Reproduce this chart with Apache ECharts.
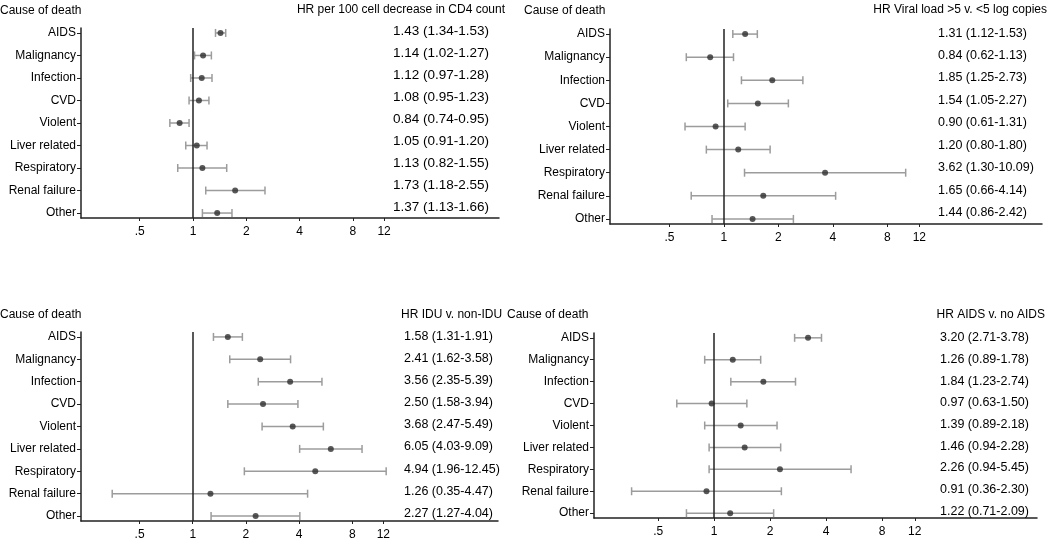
<!DOCTYPE html>
<html>
<head>
<meta charset="utf-8">
<script src="https://cdn.jsdelivr.net/npm/echarts@6/dist/echarts.min.js"></script>
<style>html,body{margin:0;padding:0;background:#fff}#c{width:1050px;height:542px}</style>
</head>
<body>
<div id="c"></div>
<script>
const categories = ['AIDS','Malignancy','Infection','CVD','Violent','Liver related','Respiratory','Renal failure','Other'];
const xTickValues = [0.5, 1, 2, 4, 8, 12];
const xTickLabels = ['.5', '1', '2', '4', '8', '12'];

const panelTitles = ['HR per 100 cell decrease in CD4 count','HR Viral load >5 v. <5 log copies','HR IDU v. non-IDU','HR AIDS v. no AIDS'];
const yHeader = 'Cause of death';

// CD4 count
const hrCD4 = [1.43, 1.14, 1.12, 1.08, 0.84, 1.05, 1.13, 1.73, 1.37];
const loCD4 = [1.34, 1.02, 0.97, 0.95, 0.74, 0.91, 0.82, 1.18, 1.13];
const hiCD4 = [1.53, 1.27, 1.28, 1.23, 0.95, 1.20, 1.55, 2.55, 1.66];
// Viral load
const hrVL = [1.31, 0.84, 1.85, 1.54, 0.90, 1.20, 3.62, 1.65, 1.44];
const loVL = [1.12, 0.62, 1.25, 1.05, 0.61, 0.80, 1.30, 0.66, 0.86];
const hiVL = [1.53, 1.13, 2.73, 2.27, 1.31, 1.80, 10.09, 4.14, 2.42];
// IDU
const hrIDU = [1.58, 2.41, 3.56, 2.50, 3.68, 6.05, 4.94, 1.26, 2.27];
const loIDU = [1.31, 1.62, 2.35, 1.58, 2.47, 4.03, 1.96, 0.35, 1.27];
const hiIDU = [1.91, 3.58, 5.39, 3.94, 5.49, 9.09, 12.45, 4.47, 4.04];
// AIDS
const hrAIDS = [3.20, 1.26, 1.84, 0.97, 1.39, 1.46, 2.26, 0.91, 1.22];
const loAIDS = [2.71, 0.89, 1.23, 0.63, 0.89, 0.94, 0.94, 0.36, 0.71];
const hiAIDS = [3.78, 1.78, 2.74, 1.50, 2.18, 2.28, 5.45, 2.30, 2.09];

const panels = [
  {hr: hrCD4, lo: loCD4, hi: hiCD4, grid: {left: 81, top: 28, width: 418, height: 190}, xmin: 0.233, xmax: 53.5,
   valOffset: -106, valFont: 13.5, vmin: -0.136, vmax: 8.5,
   head: {left: 0, top: 5}, title: {right: 545, top: 4}},
  {hr: hrVL, lo: loVL, hi: hiVL, grid: {left: 610, top: 29, width: 432, height: 195}, xmin: 0.235, xmax: 57.1,
   valOffset: -104, valFont: 12.5, vmin: -0.18, vmax: 8.49,
   head: {left: 524, top: 5}, title: {right: 3, top: 4}},
  {hr: hrIDU, lo: loIDU, hi: hiIDU, grid: {left: 81, top: 332, width: 417, height: 189}, xmin: 0.233, xmax: 53.5,
   valOffset: -94, valFont: 12.5, vmin: -0.227, vmax: 8.36,
   head: {left: 0, top: 309}, title: {left: 401, top: 309}},
  {hr: hrAIDS, lo: loAIDS, hi: hiAIDS, grid: {left: 594, top: 333, width: 443, height: 185}, xmin: 0.226, xmax: 54.5,
   valOffset: -97, valFont: 12.5, vmin: -0.23, vmax: 8.32,
   head: {left: 507, top: 309}, title: {right: 5, top: 309}}
];

const FONT = 'Liberation Sans, Arial, sans-serif';
const TXT = '#000';
const AX = '#222';
const idx = categories.map((c, i) => i);
const fmt = v => v.toFixed(2);

const option = {
  backgroundColor: '#fff',
  animation: false,
  title: [],
  grid: [],
  xAxis: [],
  yAxis: [],
  series: []
};

panels.forEach((p, k) => {
  option.title.push(Object.assign({text: yHeader, padding: 0, textStyle: {fontFamily: FONT, fontSize: 12, fontWeight: 'normal', color: TXT}}, p.head));
  option.title.push(Object.assign({text: panelTitles[k], padding: 0, textStyle: {fontFamily: FONT, fontSize: 12, fontWeight: 'normal', color: TXT}}, p.title));
  option.grid.push(Object.assign({containLabel: false}, p.grid));
  option.xAxis.push({
    type: 'log', logBase: 2, gridIndex: k, min: p.xmin, max: p.xmax, position: 'bottom',
    axisLine: {show: true, onZero: false, lineStyle: {color: AX, width: 1.5}},
    axisTick: {show: true, length: 3, customValues: xTickValues, lineStyle: {color: AX}},
    axisLabel: {customValues: xTickValues, formatter: v => xTickLabels[xTickValues.indexOf(v)] ?? '', margin: 8,
      fontFamily: FONT, fontSize: 12, color: TXT},
    splitLine: {show: false}, minorTick: {show: false}
  });
  option.yAxis.push({
    type: 'value', gridIndex: k, inverse: true, min: -0.22, max: 8.22, position: 'left',
    axisLine: {show: true, onZero: false, lineStyle: {color: AX, width: 1.5}},
    axisTick: {show: true, length: 4, customValues: idx, lineStyle: {color: AX}},
    axisLabel: {customValues: idx, formatter: v => categories[v] ?? '', margin: 5, fontFamily: FONT, fontSize: 12, color: TXT},
    splitLine: {show: false}
  });
  option.yAxis.push({
    type: 'value', gridIndex: k, inverse: true, min: p.vmin, max: p.vmax, position: 'right', offset: p.valOffset,
    axisLine: {show: false, onZero: false}, axisTick: {show: false}, splitLine: {show: false},
    axisLabel: {customValues: idx, formatter: v => (p.hr[v] === undefined ? '' : fmt(p.hr[v]) + ' (' + fmt(p.lo[v]) + '-' + fmt(p.hi[v]) + ')'),
      margin: 0, align: 'left', fontFamily: FONT, fontSize: p.valFont, color: TXT}
  });
  option.series.push({
    type: 'custom', xAxisIndex: k, yAxisIndex: 2 * k, z: 2, silent: true,
    data: idx.map(i => [i, p.lo[i], p.hi[i]]),
    encode: {x: [1, 2], y: 0},
    renderItem: (params, api) => {
      const y = api.value(0);
      const a = api.coord([api.value(1), y]);
      const b = api.coord([api.value(2), y]);
      const h = 4;
      const st = {stroke: '#9c9c9c', lineWidth: 1.5};
      return {type: 'group', children: [
        {type: 'line', shape: {x1: a[0], y1: a[1], x2: b[0], y2: b[1]}, style: st},
        {type: 'line', shape: {x1: a[0], y1: a[1] - h, x2: a[0], y2: a[1] + h}, style: st},
        {type: 'line', shape: {x1: b[0], y1: b[1] - h, x2: b[0], y2: b[1] + h}, style: st}
      ]};
    }
  });
  option.series.push({
    type: 'scatter', xAxisIndex: k, yAxisIndex: 2 * k, z: 5, silent: true,
    symbol: 'circle', symbolSize: 6,
    itemStyle: {color: '#2e2e2e'},
    data: idx.map(i => [p.hr[i], i]),
    markLine: {
      silent: true, symbol: 'none', z: 3,
      label: {show: false},
      lineStyle: {color: AX, width: 1.5, type: 'solid'},
      emphasis: {disabled: true},
      data: [{xAxis: 1}]
    }
  });
});

const chart = echarts.init(document.getElementById('c'), null, {renderer: 'canvas'});
chart.setOption(option);
</script>
</body>
</html>
